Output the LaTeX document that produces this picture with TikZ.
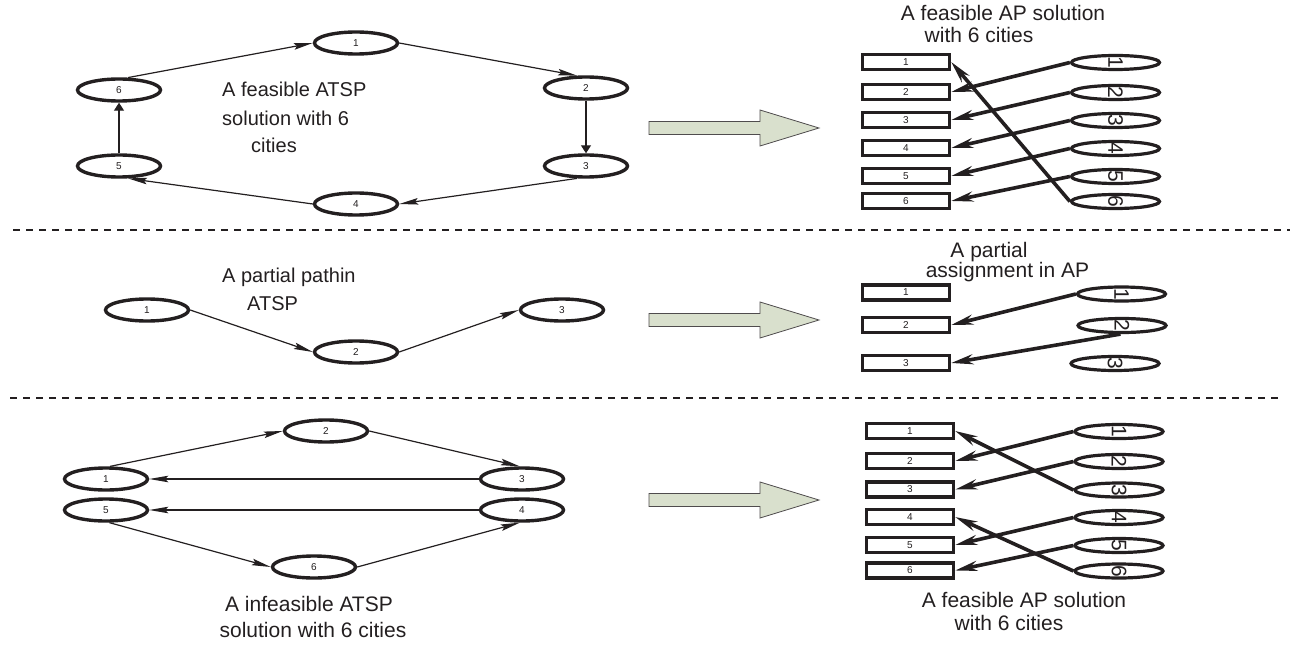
\documentclass[tikz,border=0pt]{standalone}
\usepackage{fontspec}
\setmainfont{Liberation Sans}
\usetikzlibrary{shapes.geometric,arrows.meta}
\definecolor{ink}{HTML}{231F20}
\definecolor{bigfill}{HTML}{D9E0CD}
\begin{document}
\begin{tikzpicture}[x=1pt,y=-1pt,
 every node/.style={text=ink},
 cell/.style={ellipse, draw=ink, line width=3.4pt, minimum width=83pt, minimum height=22pt, inner sep=0pt, font=\fontsize{10}{10}\selectfont},
 link/.style={draw=ink, line width=1.2pt, -{Stealth[length=19pt,width=6.5pt,inset=3pt]}},
 vlink/.style={draw=ink, line width=1.2pt, -{Triangle[length=8pt,width=10pt]}},
 slot/.style={rectangle, draw=ink, line width=3.4pt, minimum width=87pt, minimum height=15pt, inner sep=0pt, font=\fontsize{10}{10}\selectfont},
 city/.style={ellipse, draw=ink, line width=3.2pt, minimum width=88pt, minimum height=14pt, inner sep=0pt},
 rotlab/.style={rotate=-90, inner sep=0pt, font=\fontsize{21}{21}\selectfont},
 assign/.style={draw=ink, line width=3.6pt, -{Stealth[length=22pt,width=10pt,inset=7pt]}},
 ttl/.style={font=\fontsize{21}{25}\selectfont, inner sep=0pt, anchor=base},
 ttlL/.style={font=\fontsize{20}{25}\selectfont, inner sep=0pt, anchor=base west},
 bigarrow/.style={fill=bigfill, draw=ink!80, line width=0.8pt},
 divider/.style={draw=ink, line width=1.2pt, dash pattern=on 7pt off 6pt}
]
\useasboundingbox (0,0) rectangle (1290,647);

% ---------------- top left: feasible ATSP tour
\node[cell] (a1) at (356,43) {1};
\node[cell] (a2) at (586,88) {2};
\node[cell] (a3) at (586,166) {3};
\node[cell] (a4) at (356,204) {4};
\node[cell] (a5) at (119,166) {5};
\node[cell] (a6) at (119,90) {6};
\draw[link] (a6.54) -- (a1.west);
\draw[link] (a1.east) -- (a2.126);
\draw[vlink] (a2.south) -- (a3.north);
\draw[link] (a3.-126) -- (a4.east);
\draw[link] (a4.west) -- (a5.-54);
\draw[vlink] (a5.north) -- (a6.south);
\node[ttlL] (at1) at (222,97) {A feasible ATSP};
\node[ttlL] (at2) at (222,126) {solution with 6};
\node[ttlL] (at3) at (251,153) {cities};

% ---------------- middle left: partial path
\node[cell] (b1) at (147,310) {1};
\node[cell] (b2) at (356,352) {2};
\node[cell] (b3) at (562,310) {3};
\draw[link] (b1.east) -- (b2.west);
\draw[link] (b2.east) -- (b3.west);
\node[ttlL] (bt1) at (222,282) {A partial pathin};
\node[ttlL] (bt2) at (247,310) {ATSP};

% ---------------- bottom left: infeasible solution
\node[cell] (c1) at (106,479) {1};
\node[cell] (c2) at (326,431) {2};
\node[cell] (c3) at (522,479) {3};
\node[cell] (c4) at (522,510) {4};
\node[cell] (c5) at (106,510) {5};
\node[cell] (c6) at (314,567) {6};
\draw[link] (c1.72) -- (c2.west);
\draw[link] (c2.east) -- (c3.100);
\draw[link] (c3.west) -- (c1.east);
\draw[link] (c4.west) -- (c5.east);
\draw[link] (c5.-75) -- (c6.west);
\draw[link] (c6.east) -- (c4.-100);
\node[ttl] (ct1) at (309,611) {A infeasible ATSP};
\node[ttl] (ct2) at (313,637) {solution with 6 cities};

% ---------------- big arrows
\foreach \cy in {128,320,500}{
 \draw[bigarrow] (649,\cy-6.5) -- (760,\cy-6.5) -- (760,\cy-18) -- (819,\cy) -- (760,\cy+18) -- (760,\cy+6.5) -- (649,\cy+6.5) -- cycle;
}

% ---------------- dividers
\draw[divider] (13,230) -- (1290,230);
\draw[divider] (10,398) -- (1280,398);

% ---------------- top right: feasible AP solution
\node[ttl] (dt1) at (1003,21) {A feasible AP solution};
\node[ttl] (dt2) at (979,43) {with 6 cities};
\foreach \i/\y in {1/62,2/92,3/120,4/148,5/176,6/201}{
 \node[slot] (dr\i) at (906,\y) {\i};
 \node[city, label={[rotlab]center:\i}] (de\i) at (1115.5,\y+0.5) {};
}
\draw[assign] (de1.west) -- (dr2.east);
\draw[assign] (de2.west) -- (dr3.east);
\draw[assign] (de3.west) -- (dr4.east);
\draw[assign] (de4.west) -- (dr5.east);
\draw[assign] (de5.west) -- (dr6.east);
\draw[assign] (de6.west) -- (dr1.east);

% ---------------- middle right: partial assignment
\node[ttl] (et1) at (989,257) {A partial};
\node[ttl] (et2) at (1007.5,277) {assignment in AP};
\node[slot] (er1) at (906,292.5) {1};
\node[slot] (er2) at (906,325) {2};
\node[slot] (er3) at (906,363) {3};
\node[city, label={[rotlab]center:1}] (ee1) at (1121.5,294) {};
\node[city, label={[rotlab]center:2}] (ee2) at (1122,325.5) {};
\node[city, label={[rotlab]center:3}] (ee3) at (1115,363.5) {};
\draw[assign] (ee1.west) -- (er2.east);
\draw[assign] (ee2.-100) -- (er3.east);

% ---------------- bottom right: feasible AP solution
\node[ttl] (ft1) at (1024,607) {A feasible AP solution};
\node[ttl] (ft2) at (1009,630) {with 6 cities};
\foreach \i/\y in {1/431,2/461,3/489.5,4/517,5/545,6/570.5}{
 \node[slot] (fr\i) at (910,\y) {\i};
 \node[city, label={[rotlab]center:\i}] (fe\i) at (1119,\y+0.5) {};
}
\draw[assign] (fe1.west) -- (fr2.east);
\draw[assign] (fe2.west) -- (fr3.east);
\draw[assign] (fe3.west) -- (fr1.east);
\draw[assign] (fe4.west) -- (fr5.east);
\draw[assign] (fe5.west) -- (fr6.east);
\draw[assign] (fe6.west) -- (fr4.east);
\end{tikzpicture}
\end{document}
